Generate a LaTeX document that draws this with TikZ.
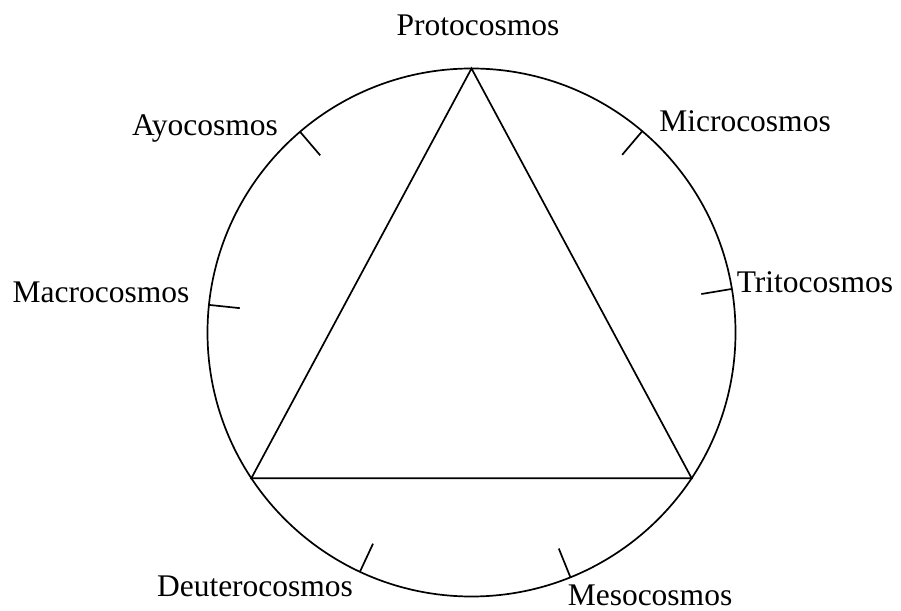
\documentclass[tikz,border=0pt]{standalone}
\usepackage{fontspec}
\setmainfont{Liberation Serif}
\usetikzlibrary{calc}
\begin{document}
\begin{tikzpicture}[x=1pt,y=1pt,
  stroke/.style={line width=1.7pt, black},
  lbl/.style={font=\fontsize{31.5}{36}\selectfont, inner sep=0pt, anchor=base}]
\useasboundingbox (0,0) rectangle (901,610);
\coordinate (O) at (471.5,277.5);
\node[stroke, draw, circle, minimum size=528pt, inner sep=0pt, outer sep=0pt] (C) at (O) {};
\coordinate (vtop) at ($(O)+(90:264)$);
\coordinate (vleft) at ($(O)+(213.5:264)$);
\coordinate (vright) at ($(O)+(326.5:264)$);
\draw[stroke] (vtop) -- (vleft) -- (vright) -- cycle;
\foreach \a/\n in {130.5/ayo, 49.7/micro, 174/macro, 9.5/trito, 245/deutero, 292/meso} {
  \coordinate (o\n) at ($(O)+(\a:264)$);
  \coordinate (t\n) at ($(O)+(\a:233)$);
  \draw[stroke] (o\n) -- (t\n);
}
\node[lbl] (proto) at (478,574) {Protocosmos};
\node[lbl] (ayo) at (205,474) {Ayocosmos};
\node[lbl] (micro) at (745,478) {Microcosmos};
\node[lbl] (trito) at (815,317) {Tritocosmos};
\node[lbl] (macro) at (101,307) {Macrocosmos};
\node[lbl] (deutero) at (255,14) {Deuterocosmos};
\node[lbl] (meso) at (650,5) {Mesocosmos};
\end{tikzpicture}
\end{document}
